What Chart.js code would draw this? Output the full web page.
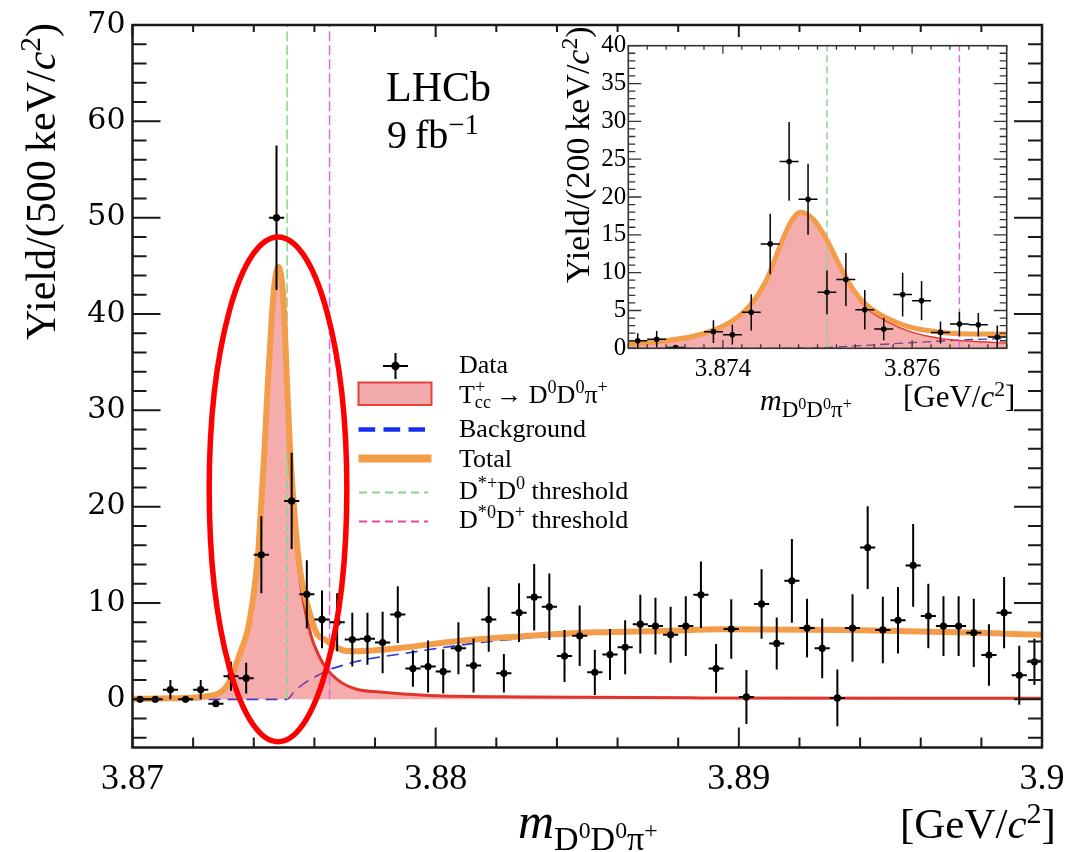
<!DOCTYPE html>
<html>
<head>
<meta charset="utf-8">
<script src="https://cdn.jsdelivr.net/npm/chart.js@4.4.0/dist/chart.umd.min.js"></script>
<style>
  html, body { margin: 0; padding: 0; background: #fff; }
  #wrap { position: relative; width: 1081px; height: 852px; overflow: hidden; font-family: "Liberation Serif", "DejaVu Serif", serif; color: #000; }
  canvas { position: absolute; }
  #main { left: 0; top: 0; }
  #inset { left: 555px; top: 28px; }
  .lbl { position: absolute; white-space: nowrap; line-height: 1; }
  .rot { transform-origin: 0 0; transform: rotate(-90deg); }
  .up { font-size: 0.7em; position: relative; top: -0.5em; }
  .dn { font-size: 0.7em; position: relative; top: 0.3em; }
</style>
</head>
<body>
<div id="wrap">
  <canvas id="main" width="1081" height="852"></canvas>
  <canvas id="inset" width="470" height="395"></canvas>

  <div class="lbl" style="left:386px; top:66px; font-size:42px;">LHCb</div>
  <div class="lbl" style="left:387px; top:115px; font-size:40px;">9&thinsp;fb<span class="up" style="font-size:0.72em">−1</span></div>

  <div class="lbl" style="left:459px; top:351.5px; font-size:26px;">Data</div>
  <div class="lbl" style="left:459px; top:381.5px; font-size:26px;">T<span class="up">+</span><span class="dn" style="margin-left:-10.3px">cc</span>&thinsp;→ D<span class="up">0</span>D<span class="up">0</span>π<span class="up">+</span></div>
  <div class="lbl" style="left:459px; top:415.5px; font-size:26px;">Background</div>
  <div class="lbl" style="left:459px; top:446px; font-size:26px;">Total</div>
  <div class="lbl" style="left:459px; top:477.5px; font-size:26px;">D<span class="up">*+</span>D<span class="up">0</span> threshold</div>
  <div class="lbl" style="left:459px; top:506.5px; font-size:26px;">D<span class="up">*0</span>D<span class="up">+</span> threshold</div>

  <div class="lbl rot" style="left:20px; top:340px; font-size:42px;">Yield/(500&thinsp;keV/<i>c</i><span class="up">2</span>)</div>
  <div class="lbl" style="left:518px; top:796px; font-size:50px;"><i>m</i><span style="font-size:34px; position:relative; top:12px;">D<span class="up">0</span>D<span class="up">0</span>π<span class="up">+</span></span></div>
  <div class="lbl" style="left:900px; top:802px; font-size:43px;">[GeV/<i>c</i><span class="up">2</span>]</div>

  <div class="lbl rot" style="left:561px; top:283px; font-size:34px;">Yield/(200&thinsp;keV/<i>c</i><span class="up">2</span>)</div>
  <div class="lbl" style="left:760px; top:385px; font-size:30px;"><i>m</i><span style="font-size:23px; position:relative; top:7px;">D<span class="up">0</span>D<span class="up">0</span>π<span class="up">+</span></span></div>
  <div class="lbl" style="left:903px; top:381px; font-size:31px;">[GeV/<i>c</i><span class="up">2</span>]</div>
</div>

<script>
// Main plot: 500 keV bins from 3.870 to 3.900 GeV
const mainBinLo = 3.870;
const mainBinWidth = 0.0005;
const mainYield = [0, 0, 1.0, 0, 1.0, -0.45, 2.4, 2.2, 15.0, 50.0,
    20.6, 10.9, 8.3, 8.0, 6.2, 6.3, 5.9, 8.8, 3.2, 3.4,
    2.9, 5.3, 3.5, 8.3, 2.7, 9.0, 10.6, 9.6, 4.5, 6.6,
    2.8, 4.65, 5.4, 7.8, 7.6, 6.7, 7.6, 10.85, 3.2, 7.3,
    0.25, 9.9, 5.8, 12.3, 7.4, 5.3, 0.15, 7.4, 15.75, 7.2,
    8.2, 13.9, 8.65, 7.6, 7.6, 6.9, 4.6, 9.0, 2.5, 3.9];
const mainErr = [0, 0, 1.0, 0, 1.0, 0.3, 1.5, 1.6, 4.0, 7.5,
    5.0, 3.55, 3.0, 3.0, 2.8, 2.7, 3.2, 2.95, 1.9, 2.7,
    2.3, 2.7, 2.8, 3.35, 2.0, 3.05, 3.45, 3.45, 2.7, 3.15,
    2.35, 2.65, 2.8, 3.05, 2.95, 2.9, 3.1, 3.45, 2.55, 3.1,
    2.8, 3.6, 2.7, 4.35, 3.05, 3.1, 2.95, 3.5, 4.3, 3.45,
    3.45, 4.3, 3.35, 3.1, 3.1, 3.55, 3.2, 3.7, 3.05, 2.4];

// Fit curves
const totalMass = [3.8700, 3.87124, 3.87223, 3.87289, 3.87316, 3.87338, 3.87358, 3.87377, 3.87388, 3.87404,
    3.87415, 3.87422, 3.87435, 3.87446, 3.87459, 3.87468, 3.87481, 3.87494, 3.87501, 3.87510,
    3.87520, 3.87530, 3.87545, 3.87560, 3.87589, 3.87608, 3.87635, 3.87678, 3.87701, 3.87734,
    3.87872, 3.88090, 3.88311, 3.88532, 3.88750, 3.88948, 3.89357, 3.89796, 3.9000];
const totalYield = [0.05, 0.1, 0.25, 0.7, 1.6, 3.3, 5.07, 6.8, 8.5, 12.0,
    15.4, 18.9, 25.7, 32.6, 39.5, 43.0, 44.9, 43.0, 39.5, 32.6,
    25.7, 21.0, 15.4, 12.0, 8.5, 6.8, 6.2, 5.3, 5.05, 5.0,
    5.3, 6.1, 6.6, 6.96, 7.1, 7.27, 7.2, 6.9, 6.7];
const sigMass = [3.8700, 3.87124, 3.87223, 3.87289, 3.87316, 3.87338, 3.87358, 3.87377, 3.87388, 3.87404,
    3.87415, 3.87422, 3.87435, 3.87446, 3.87459, 3.87468, 3.87481, 3.87494, 3.87501, 3.87510,
    3.87520, 3.87530, 3.87545, 3.87560, 3.87589, 3.87608, 3.87635, 3.87678, 3.87734, 3.87816,
    3.87981, 3.88311, 3.88872, 3.9000];
const sigYield = [0.05, 0.1, 0.25, 0.7, 1.6, 3.3, 5.07, 6.8, 8.5, 12.0,
    15.4, 18.9, 25.7, 32.6, 39.5, 43.0, 44.9, 43.0, 39.5, 32.6,
    25.3, 20.2, 14.4, 10.8, 6.6, 5.0, 3.4, 2.0, 1.1, 0.75,
    0.4, 0.25, 0.15, 0.1];
const bkgMass = [3.8700, 3.87509, 3.87536, 3.87569, 3.87612, 3.87651, 3.87691, 3.87734, 3.87882, 3.88179,
    3.88420, 3.88707, 3.88948, 3.89357, 3.89796, 3.9000];
const bkgYield = [0, 0, 0.9, 1.7, 2.5, 3.1, 3.5, 3.9, 4.7, 6.0,
    6.6, 6.95, 7.15, 7.1, 6.8, 6.6];

// Inset: 200 keV bins from 3.873 to 3.877 GeV
const insetBinLo = 3.873;
const insetBinWidth = 0.0002;
const insetYield = [1.0, 1.2, 0.1, -0.5, 2.2, 1.8, 4.75, 13.8, 24.7, 19.7,
    7.4, 9.1, 5.1, 2.55, 7.1, 6.3, 2.1, 3.2, 3.1, 1.5];
const insetErr = [1.0, 1.1, 0.3, 0.3, 1.5, 1.3, 2.4, 4.0, 5.2, 4.7,
    2.9, 3.5, 2.6, 1.5, 2.9, 2.6, 1.45, 1.6, 1.55, 1.5];
const insTotMass = [3.87300, 3.87333, 3.87369, 3.87390, 3.87411, 3.87429, 3.87446, 3.87460, 3.87471, 3.87482,
    3.87496, 3.87510, 3.87524, 3.87538, 3.87552, 3.87573, 3.87598, 3.87633, 3.87668, 3.87700];
const insTotYield = [0.5, 0.9, 1.6, 2.4, 3.7, 5.7, 9.0, 13.4, 16.5, 18.0,
    17.0, 14.3, 10.8, 7.7, 5.7, 4.0, 2.8, 2.1, 1.9, 1.9];
const insSigYield = [0.5, 0.9, 1.6, 2.4, 3.7, 5.7, 9.0, 13.4, 16.5, 18.0,
    17.0, 14.2, 10.6, 7.4, 5.3, 3.55, 2.2, 1.25, 0.9, 0.7];
const insBkgMass = [3.8730, 3.87474, 3.87510, 3.87545, 3.87580, 3.87615, 3.87651, 3.87700];
const insBkgYield = [0, 0, 0.1, 0.35, 0.6, 0.85, 1.1, 1.3];

// Thresholds (GeV)
const thresholdMass = [3.8751, 3.8765];

// Tick labels
const mainXTicks = [3.87, 3.88, 3.89, 3.9];
const mainXLabels = ['3.87', '3.88', '3.89', '3.9'];
const mainYTicks = [0, 10, 20, 30, 40, 50, 60, 70];
const insetXTicks = [3.874, 3.876];
const insetXLabels = ['3.874', '3.876'];
const insetYTicks = [0, 5, 10, 15, 20, 25, 30, 35, 40];

// Highlight ring (data coords): centre and half-axes
const ringCentre = [3.8748, 21.8];
const ringRadii = [0.00227, 26.2];

const colors = {
    total: '#F39C4A',
    signal: '#E3342C',
    signalFill: 'rgba(232, 72, 72, 0.45)',
    bkg: '#2536D6',
    green: '#86D886',
    magenta: '#E066E8',
    legendPink: '#E8489A',
    ring: '#FF0000'
};

const pts = (xs, ys) => xs.map((x, i) => ({ x: x, y: ys[i] }));
const binPts = (lo, w, ys) => ys.map((y, i) => ({ x: lo + (i + 0.5) * w, y: y }));

// Error bars, drawn just before the point dataset
const errorBars = {
    id: 'errorBars',
    beforeDatasetDraw(chart, args) {
        const ds = chart.data.datasets[args.index];
        if (!ds.errY) return;
        const { ctx, chartArea: a, scales: { x, y } } = chart;
        ctx.save();
        ctx.beginPath();
        ctx.rect(a.left, a.top, a.width, a.height);
        ctx.clip();
        ctx.strokeStyle = '#000';
        ctx.lineWidth = ds.errLineWidth;
        ctx.beginPath();
        ds.data.forEach((p, i) => {
            const px = x.getPixelForValue(p.x);
            const py = y.getPixelForValue(p.y);
            ctx.moveTo(x.getPixelForValue(p.x - ds.errX), py);
            ctx.lineTo(x.getPixelForValue(p.x + ds.errX), py);
            if (ds.errY[i] > 0) {
                ctx.moveTo(px, y.getPixelForValue(p.y - ds.errY[i]));
                ctx.lineTo(px, y.getPixelForValue(p.y + ds.errY[i]));
            }
        });
        ctx.stroke();
        ctx.restore();
    }
};

// Threshold lines, drawn after the signal dataset
const makeThresholds = (afterIndex, yTop, dash, width) => ({
    id: 'thresholds',
    afterDatasetDraw(chart, args) {
        if (args.index !== afterIndex) return;
        const { ctx, scales: { x, y } } = chart;
        ctx.save();
        ctx.lineWidth = width;
        ctx.setLineDash(dash);
        [colors.green, colors.magenta].forEach((c, i) => {
            const px = x.getPixelForValue(thresholdMass[i]);
            ctx.strokeStyle = c;
            ctx.beginPath();
            ctx.moveTo(px, y.getPixelForValue(0));
            ctx.lineTo(px, y.getPixelForValue(yTop));
            ctx.stroke();
        });
        ctx.restore();
    }
});

// ROOT-style frame with inward ticks on all four sides
const makeFrame = (cfg) => ({
    id: 'frameTicks',
    afterDraw(chart) {
        const { ctx, chartArea: a, scales: { x, y } } = chart;
        ctx.save();
        ctx.strokeStyle = cfg.color;
        ctx.lineWidth = cfg.tickWidth;
        ctx.beginPath();
        for (let k = 0; k <= cfg.xCount; k++) {
            const px = x.getPixelForValue(cfg.xStart + k * cfg.xStep);
            const major = (k - cfg.xMajorOffset) % cfg.xMajorEvery === 0;
            ctx.moveTo(px, a.bottom);
            ctx.lineTo(px, a.bottom - (major ? cfg.xMajor : cfg.xMinor));
            ctx.moveTo(px, a.top);
            ctx.lineTo(px, a.top + (major ? cfg.xTopMajor : cfg.xTopMinor));
        }
        for (let k = 0; k <= cfg.yCount; k++) {
            const v = cfg.yStart + k * cfg.yStep;
            const py = y.getPixelForValue(v);
            const major = Math.abs(v / cfg.yMajorStep - Math.round(v / cfg.yMajorStep)) < 1e-6;
            const len = major ? cfg.yMajor : cfg.yMinor;
            ctx.moveTo(a.left, py);
            ctx.lineTo(a.left + len, py);
            ctx.moveTo(a.right, py);
            ctx.lineTo(a.right - len, py);
        }
        ctx.stroke();
        ctx.lineWidth = cfg.frameWidth;
        ctx.strokeRect(a.left, a.top, a.width, a.height);
        ctx.restore();
    }
});

// Red ellipse highlighting the peak, plus the legend symbols
const overlay = {
    id: 'overlay',
    afterDraw(chart) {
        const { ctx, scales: { x, y } } = chart;
        ctx.save();
        // legend symbols
        ctx.fillStyle = '#000';
        ctx.strokeStyle = '#000';
        ctx.lineWidth = 2;
        ctx.beginPath();
        ctx.moveTo(383, 366); ctx.lineTo(408, 366);
        ctx.moveTo(395.5, 353); ctx.lineTo(395.5, 379);
        ctx.stroke();
        ctx.beginPath();
        ctx.arc(395.5, 366, 4.2, 0, Math.PI * 2);
        ctx.fill();

        ctx.fillStyle = '#F3AAAA';
        ctx.fillRect(358.5, 382.5, 73, 22.5);
        ctx.strokeStyle = '#E8403A';
        ctx.lineWidth = 2;
        ctx.strokeRect(358.5, 382.5, 73, 22.5);

        ctx.strokeStyle = '#1430F0';
        ctx.lineWidth = 4.5;
        ctx.setLineDash([16.7, 8.3]);
        ctx.beginPath(); ctx.moveTo(358.5, 429.5); ctx.lineTo(425, 429.5); ctx.stroke();

        ctx.setLineDash([]);
        ctx.strokeStyle = colors.total;
        ctx.lineWidth = 8;
        ctx.beginPath(); ctx.moveTo(358.5, 458.5); ctx.lineTo(431.5, 458.5); ctx.stroke();

        ctx.lineWidth = 2;
        ctx.setLineDash([8, 5]);
        ctx.strokeStyle = colors.green;
        ctx.beginPath(); ctx.moveTo(359, 492.5); ctx.lineTo(428, 492.5); ctx.stroke();
        ctx.strokeStyle = colors.legendPink;
        ctx.beginPath(); ctx.moveTo(359, 521.5); ctx.lineTo(428, 521.5); ctx.stroke();

        // highlight ring
        ctx.setLineDash([]);
        ctx.strokeStyle = colors.ring;
        ctx.lineWidth = 5.5;
        const cx = x.getPixelForValue(ringCentre[0]);
        const cy = y.getPixelForValue(ringCentre[1]);
        const rx = x.getPixelForValue(ringCentre[0] + ringRadii[0]) - cx;
        const ry = cy - y.getPixelForValue(ringCentre[1] + ringRadii[1]);
        ctx.beginPath();
        ctx.ellipse(cx, cy, rx, ry, 0, 0, Math.PI * 2);
        ctx.stroke();
        ctx.restore();
    }
};

const curve = (data, color, width, extra) => Object.assign({
    data: data,
    showLine: true,
    borderColor: color,
    borderWidth: width,
    pointRadius: 0,
    cubicInterpolationMode: 'monotone',
    fill: false
}, extra);

// Main chart
new Chart(document.getElementById('main'), {
    type: 'scatter',
    data: {
        datasets: [
            {
                label: 'Data',
                data: binPts(mainBinLo, mainBinWidth, mainYield),
                errY: mainErr,
                errX: mainBinWidth / 2,
                errLineWidth: 2,
                pointRadius: 3.6,
                backgroundColor: '#000',
                borderColor: '#000',
                borderWidth: 0,
                order: 0
            },
            curve(pts(totalMass, totalYield), colors.total, 6, { label: 'Total', order: 1 }),
            curve(pts(sigMass, sigYield), colors.signal, 3, {
                label: 'Signal', order: 2, fill: 'origin', backgroundColor: colors.signalFill
            }),
            curve(pts(bkgMass, bkgYield), colors.bkg, 1.6, { label: 'Background', order: 3, borderDash: [12, 7] })
        ]
    },
    options: {
        responsive: false,
        animation: false,
        events: [],
        layout: { padding: { left: 0, top: 22, right: 39, bottom: 0 } },
        plugins: {
            legend: { display: false },
            tooltip: { enabled: false }
        },
        scales: {
            x: {
                type: 'linear',
                min: 3.87,
                max: 3.9,
                afterBuildTicks: (s) => { s.ticks = mainXTicks.map(v => ({ value: v })); },
                afterFit: (s) => { s.height = 104.5; },
                ticks: {
                    color: '#000',
                    font: { family: 'Liberation Serif', size: 36 },
                    padding: 10,
                    maxRotation: 0,
                    autoSkip: false,
                    callback: (v, i) => mainXLabels[i]
                },
                grid: { display: false, drawTicks: false },
                border: { display: false }
            },
            y: {
                type: 'linear',
                min: -5,
                max: 70,
                afterBuildTicks: (s) => { s.ticks = mainYTicks.map(v => ({ value: v })); },
                afterFit: (s) => { s.width = 132.5; },
                ticks: {
                    color: '#000',
                    font: { family: 'DejaVu Serif', size: 30 },
                    padding: 7,
                    autoSkip: false
                },
                grid: { display: false, drawTicks: false },
                border: { display: false }
            }
        }
    },
    plugins: [
        errorBars,
        makeThresholds(2, 70, [10, 4], 1.5),
        makeFrame({
            color: '#1a1a1a', tickWidth: 2, frameWidth: 2.5,
            xStart: 3.87, xStep: 0.002, xCount: 15, xMajorEvery: 5, xMajorOffset: 0,
            xMajor: 20, xMinor: 10, xTopMajor: 12, xTopMinor: 7,
            yStart: -4, yStep: 2, yCount: 37, yMajorStep: 10, yMajor: 28, yMinor: 14
        }),
        overlay
    ]
});

// Inset chart
new Chart(document.getElementById('inset'), {
    type: 'scatter',
    data: {
        datasets: [
            {
                label: 'Data',
                data: binPts(insetBinLo, insetBinWidth, insetYield),
                errY: insetErr,
                errX: insetBinWidth / 2,
                errLineWidth: 1.5,
                pointRadius: 2.8,
                backgroundColor: '#000',
                borderColor: '#000',
                borderWidth: 0,
                order: 0
            },
            curve(pts(insTotMass, insTotYield), colors.total, 5, { label: 'Total', order: 1 }),
            curve(pts(insTotMass, insSigYield), colors.signal, 1.3, {
                label: 'Signal', order: 2, fill: 'origin', backgroundColor: colors.signalFill
            }),
            curve(pts(insBkgMass, insBkgYield), colors.bkg, 1.3, { label: 'Background', order: 3, borderDash: [9, 5] })
        ]
    },
    options: {
        responsive: false,
        animation: false,
        events: [],
        layout: { padding: { left: 0, top: 17.7, right: 18.3, bottom: 0 } },
        plugins: {
            legend: { display: false },
            tooltip: { enabled: false }
        },
        scales: {
            x: {
                type: 'linear',
                min: 3.873,
                max: 3.877,
                afterBuildTicks: (s) => { s.ticks = insetXTicks.map(v => ({ value: v })); },
                afterFit: (s) => { s.height = 74.7; },
                ticks: {
                    color: '#000',
                    font: { family: 'Liberation Serif', size: 25 },
                    padding: 6,
                    maxRotation: 0,
                    autoSkip: false,
                    callback: (v, i) => insetXLabels[i]
                },
                grid: { display: false, drawTicks: false },
                border: { display: false }
            },
            y: {
                type: 'linear',
                min: 0,
                max: 40,
                afterBuildTicks: (s) => { s.ticks = insetYTicks.map(v => ({ value: v })); },
                afterFit: (s) => { s.width = 73.3; },
                ticks: {
                    color: '#000',
                    font: { family: 'Liberation Serif', size: 25 },
                    padding: 2,
                    autoSkip: false
                },
                grid: { display: false, drawTicks: false },
                border: { display: false }
            }
        }
    },
    plugins: [
        errorBars,
        makeThresholds(2, 40, [7, 4], 1.5),
        makeFrame({
            color: '#333', tickWidth: 1.3, frameWidth: 1.6,
            xStart: 3.873, xStep: 0.0002, xCount: 20, xMajorEvery: 10, xMajorOffset: 5,
            xMajor: 8, xMinor: 4, xTopMajor: 8, xTopMinor: 4,
            yStart: 0, yStep: 1, yCount: 40, yMajorStep: 5, yMajor: 13, yMinor: 7
        })
    ]
});
</script>
</body>
</html>
